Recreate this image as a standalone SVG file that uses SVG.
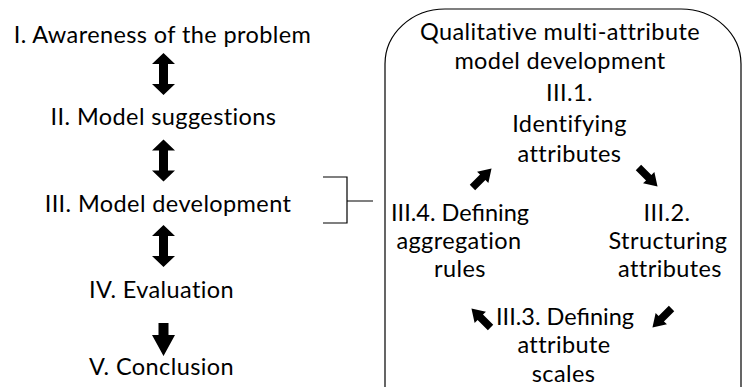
<svg xmlns="http://www.w3.org/2000/svg" width="742" height="387" viewBox="0 0 742 387">
<style>
text{font-family:Lato,"Open Sans","Liberation Sans",sans-serif;font-size:23.5px;letter-spacing:0.4px;fill:#000;text-anchor:middle}
.tight{letter-spacing:0}
.line{fill:none;stroke:#000;stroke-width:1.2}
.arr{fill:#000}
</style>
<defs>
<polygon id="dbl" points="0,-21 11.5,-10 4.5,-10 4.5,10 11.5,10 0,21 -11.5,10 -4.5,10 -4.5,-10 -11.5,-10"/>
<polygon id="dn" points="-5,-16.5 5,-16.5 5,-4.5 11.5,-4.5 0,16.5 -11.5,-4.5 -5,-4.5"/>
<polygon id="blk" points="-13.5,-3.8 1,-3.8 1,-8 13.5,0 1,8 1,3.8 -13.5,3.8"/>
</defs>
<rect width="742" height="387" fill="#fff"/>
<g id="step1"><text x="162.5" y="43">I. Awareness of the problem</text></g>
<g id="step2"><text x="163.5" y="125">II. Model suggestions</text></g>
<g id="step3"><text x="168" y="212">III. Model development</text></g>
<g id="step4"><text x="161.5" y="298">IV. Evaluation</text></g>
<g id="step5"><text x="161.5" y="375">V. Conclusion</text></g>
<g id="qmam">
<path class="line" d="M385,392 L385,64 A60,55 0 0 1 445,9 L681,9 A60,55 0 0 1 741,64 L741,392"/>
<text x="560" y="40">Qualitative multi-attribute</text>
<text x="560" y="69">model development</text>
</g>
<g id="s31"><text x="569.5" y="101">III.1.</text><text x="569.5" y="132">Identifying</text><text x="569.5" y="162">attributes</text></g>
<g id="s32"><text x="667" y="221">III.2.</text><text x="668" y="249">Structuring</text><text x="670" y="277">attributes</text></g>
<g id="s33"><text class="tight" x="565" y="325">III.3. Defining</text><text x="564" y="353">attribute</text><text x="563.5" y="382">scales</text></g>
<g id="s34"><text class="tight" x="460" y="221">III.4. Defining</text><text x="459" y="249">aggregation</text><text x="460" y="277">rules</text></g>
<g id="connectors">
<use href="#dbl" class="arr" x="163.5" y="74"/>
<use href="#dbl" class="arr" x="163.5" y="160.5"/>
<use href="#dbl" class="arr" x="163.5" y="246"/>
<use href="#dn" class="arr" x="163.5" y="339.5"/>
<path class="line" d="M323,177 H347 V223 H323 M347,201 H373"/>
<use href="#blk" class="arr" transform="translate(482,178) rotate(-45)"/>
<use href="#blk" class="arr" transform="translate(648,177) rotate(45)"/>
<use href="#blk" class="arr" transform="translate(662,318) rotate(135)"/>
<use href="#blk" class="arr" transform="translate(481,318) rotate(-135)"/>
</g>
</svg>
